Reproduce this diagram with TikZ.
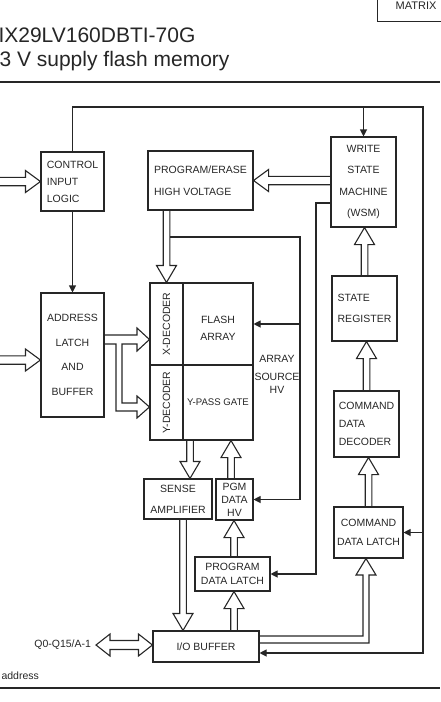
\documentclass[tikz,border=0pt]{standalone}
\usepackage{fontspec}
\setmainfont{Liberation Sans}
\usetikzlibrary{calc,arrows.meta}

\definecolor{ink}{HTML}{262626}
\newcommand{\blockfont}[1]{\fontsize{10.5}{#1}\selectfont}

\tikzset{
  fat shaft/.store in=\fatshaft, fat head/.store in=\fathead, fat len/.store in=\fatlen,
  fat shaft=3.3pt, fat head=10pt, fat len=17pt,
  fat/.style={to path={let \p1=(\tikztostart), \p2=(\tikztotarget),
      \n1={atan2(\y2-\y1,\x2-\x1)}, \n2={veclen(\x2-\x1,\y2-\y1)-\fatlen} in
      ($(\p1)+(\n1+90:\fatshaft)$) -- ($(\p1)+(\n1:\n2)+(\n1+90:\fatshaft)$)
      -- ($(\p1)+(\n1:\n2)+(\n1+90:\fathead)$) -- (\p2)
      -- ($(\p1)+(\n1:\n2)+(\n1-90:\fathead)$) -- ($(\p1)+(\n1:\n2)+(\n1-90:\fatshaft)$)
      -- ($(\p1)+(\n1-90:\fatshaft)$)}},
  hfat/.style={fat, fat shaft=4.2pt, fat head=11pt, fat len=15pt},
  fatboth/.style={to path={let \p1=(\tikztostart), \p2=(\tikztotarget),
      \n1={atan2(\y2-\y1,\x2-\x1)}, \n2={veclen(\x2-\x1,\y2-\y1)-14pt} in
      ($(\p1)+(\n1:14pt)+(\n1+90:4.5pt)$) -- ($(\p1)+(\n1:\n2)+(\n1+90:4.5pt)$)
      -- ($(\p1)+(\n1:\n2)+(\n1+90:11pt)$) -- (\p2)
      -- ($(\p1)+(\n1:\n2)+(\n1-90:11pt)$) -- ($(\p1)+(\n1:\n2)+(\n1-90:4.5pt)$)
      -- ($(\p1)+(\n1:14pt)+(\n1-90:4.5pt)$) -- ($(\p1)+(\n1:14pt)+(\n1-90:11pt)$)
      -- (\p1) -- ($(\p1)+(\n1:14pt)+(\n1+90:11pt)$) -- cycle}},
  headed/.style={-{Triangle[length=7pt,width=7pt]}},
  box/.style={draw, inner sep=0pt},
}

\begin{document}
\begin{tikzpicture}[x=1pt, y=-1pt, line width=1.1pt, color=ink,
    every node/.style={font=\blockfont{13}}]
  \useasboundingbox (0,0) rectangle (440,702);
  % Header
  \node[anchor=base west, inner sep=0pt, font=\fontsize{21}{25}\selectfont] (title) at (-2,42) {IX29LV160DBTI-70G};
  \node[anchor=base west, inner sep=0pt, font=\fontsize{21}{25}\selectfont] (subtitle) at (-1,66) {3 V supply flash memory};
  \node[box, anchor=south west, minimum width=77, minimum height=32, font=\fontsize{11}{13}\selectfont] (mtx) at (377,22) {MATRIX};
  \draw[line width=2pt] (0,82) -- (440,82);
  \draw[line width=2pt] (0,688) -- (440,688);
  % Control and address blocks
  \node[box, minimum width=63, minimum height=59, align=left, font=\blockfont{17}] (ctrl) at (72.5,181.5) {CONTROL\\INPUT\\LOGIC};
  \node[box, minimum width=63, minimum height=124, align=center, font=\blockfont{24.7}] (addr) at (72.5,355) {ADDRESS\\LATCH\\AND\\BUFFER};
  % High voltage and state machine
  \node[box, minimum width=105, minimum height=59, align=left, font=\blockfont{22}] (pe) at (200.5,180.5) {PROGRAM/ERASE\\HIGH VOLTAGE};
  \node[box, minimum width=65, minimum height=90, align=center, font=\blockfont{21.3}] (wsm) at (363.5,182) {WRITE\\STATE\\MACHINE\\(WSM)};
  \node[box, minimum width=65, minimum height=65, align=left, font=\blockfont{21}] (sr) at (364.5,308.5) {STATE\\REGISTER};
  \node[box, minimum width=65, minimum height=66, align=left, font=\blockfont{18}] (cdd) at (366.5,424) {COMMAND\\DATA\\DECODER};
  \node[box, minimum width=69, minimum height=51, align=center, font=\blockfont{19}] (cdl) at (368.5,532.5) {COMMAND\\DATA LATCH};
  % Memory array
  \node[box, minimum width=33, minimum height=82] (xdec) at (166.5,324) {};
  \node[rotate=90] (xdeclbl) at (xdec) {X-DECODER};
  \node[box, minimum width=70, minimum height=82] (fla) at (218,324) {};
  \node[align=center, font=\blockfont{17}] (flalbl) at (218,328.5) {FLASH\\ARRAY};
  \node[box, minimum width=33, minimum height=75] (ydec) at (166.5,402.5) {};
  \node[rotate=90] (ydeclbl) at (ydec) {Y-DECODER};
  \node[box, minimum width=70, minimum height=75, font=\fontsize{9.6}{11}\selectfont] (ypg) at (218,402.5) {Y-PASS GATE};
  \node[align=center, font=\blockfont{18}] (srchv) at (277,374.5) {ARRAY\\SOURCE\\[-5pt]HV};
  % Data path
  \node[box, minimum width=68, minimum height=40, align=center, font=\blockfont{21}] (sense) at (178,499) {SENSE\\AMPLIFIER};
  \node[box, minimum width=37, minimum height=41, align=center, font=\blockfont{13}] (pgm) at (234.5,499.5) {PGM\\DATA\\HV};
  \node[box, minimum width=75, minimum height=34, align=center, font=\blockfont{14}] (pdl) at (232.5,574) {PROGRAM\\DATA LATCH};
  \node[box, minimum width=106, minimum height=31] (io) at (206,646.5) {I/O BUFFER};
  \node[anchor=east, inner sep=4.5pt] (q) at (96,645) {Q0-Q15/A-1};
  \node[anchor=base west, inner sep=0pt] (note) at (1,679) {address};
  % Thin control lines
  \coordinate (tl) at (72.5,107);
  \coordinate (tr) at (423,107);
  \coordinate (br) at (423,653);
  \coordinate (hvtap) at (169.8,237);
  \coordinate (hvtop) at (300,237);
  \coordinate (pgmbus) at (316,203);
  \draw[headed] (ctrl.north) -- (tl) -- (tr) -- (br) -- (io.east |- br);
  \draw[headed] (wsm.north |- tl) -- (wsm.north);
  \draw[headed] (tr |- cdl.east) -- (cdl.east);
  \draw[headed] (ctrl.south) -- (addr.north);
  \draw[headed] (hvtap) -- (hvtop) -- (hvtop |- pgm.east) -- (pgm.east);
  \draw[headed] (hvtop |- fla.east) -- (fla.east);
  \draw[headed] (wsm.west |- pgmbus) -- (pgmbus) -- (pgmbus |- pdl.east) -- (pdl.east);
  % Hollow bus arrows
  \draw[hfat] (ctrl.west -| -3,0) to (ctrl.west);
  \draw[hfat] (-3,360) to (addr.west |- 0,360);
  \draw[hfat] (wsm.west |- pe.east) to (pe.east);
  \draw[fat] (xdec.north |- pe.south) to (xdec.north);
  \draw[fat] (sr.north) to (sr.north |- wsm.south);
  \draw[fat] (cdd.north) to (cdd.north |- sr.south);
  \draw[fat] (cdl.north) to (cdl.north |- cdd.south);
  \draw[fat] (190,0 |- ypg.south) to (190,0 |- sense.north);
  \draw[fat] (231,0 |- pgm.north) to (231,0 |- ypg.south);
  \draw[fat] (234,0 |- pdl.north) to (234,0 |- pgm.south);
  \draw[fat] (234,0 |- io.north) to (234,0 |- pdl.south);
  \draw[fat] (183,0 |- sense.south) to (183,0 |- io.north);
  \draw[fatboth] (q.east) to (q.east -| io.west);
  % Address bus to both decoders
  \draw (addr.east |- 0,335) -- (137,335) -- (137,328) -- (xdec.west |- 0,339.5) -- (137,351) -- (137,344)
    -- (122,344) -- (122,403) -- (137,403) -- (137,396) -- (ydec.west |- 0,407) -- (137,418) -- (137,411)
    -- (116,411) -- (116,344) -- (addr.east |- 0,344);
  % Data bus to command latch
  \draw (io.east |- 0,636) -- (363,636) -- (363,575) -- (356,575) -- (cdl.south -| 366,0) -- (376,575)
    -- (369,575) -- (369,643) -- (io.east |- 0,643);
\end{tikzpicture}
\end{document}
